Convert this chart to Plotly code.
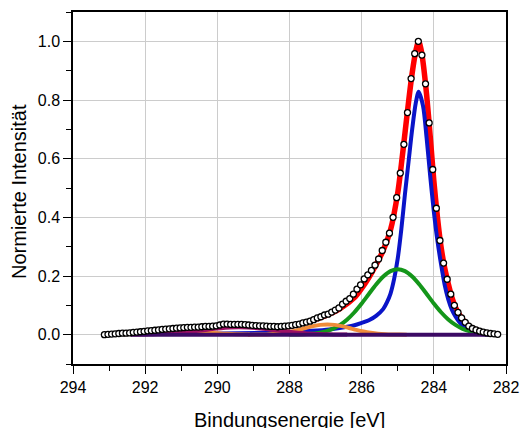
import plotly.graph_objects as go

# ---- measured spectrum (binding energy in eV, normalised intensity) ----
energy = [293.13, 293.03, 292.93, 292.83, 292.73, 292.63, 292.53, 292.43, 292.33, 292.23,
          292.13, 292.03, 291.93, 291.83, 291.73, 291.63, 291.53, 291.43, 291.33, 291.23,
          291.13, 291.03, 290.93, 290.83, 290.73, 290.63, 290.53, 290.43, 290.33, 290.23,
          290.13, 290.03, 289.93, 289.83, 289.73, 289.63, 289.53, 289.43, 289.33, 289.23,
          289.13, 289.03, 288.93, 288.83, 288.73, 288.63, 288.53, 288.43, 288.33, 288.23,
          288.13, 288.03, 287.93, 287.83, 287.73, 287.63, 287.53, 287.43, 287.33, 287.23,
          287.13, 287.03, 286.93, 286.83, 286.73, 286.63, 286.53, 286.43, 286.33, 286.23,
          286.13, 286.03, 285.93, 285.83, 285.73, 285.63, 285.53, 285.43, 285.33, 285.23,
          285.13, 285.03, 284.93, 284.83, 284.73, 284.63, 284.53, 284.43, 284.33, 284.23,
          284.13, 284.03, 283.93, 283.83, 283.73, 283.63, 283.53, 283.43, 283.33, 283.23,
          283.13, 283.03, 282.93, 282.83, 282.73, 282.63, 282.53, 282.43, 282.33, 282.23]
intensity = [0.000, 0.001, 0.002, 0.003, 0.004, 0.005, 0.005, 0.006, 0.008, 0.009,
             0.010, 0.011, 0.013, 0.014, 0.015, 0.016, 0.018, 0.019, 0.020, 0.021,
             0.022, 0.023, 0.024, 0.025, 0.025, 0.026, 0.026, 0.027, 0.028, 0.028,
             0.029, 0.030, 0.033, 0.036, 0.036, 0.035, 0.035, 0.035, 0.035, 0.034,
             0.033, 0.032, 0.031, 0.030, 0.030, 0.029, 0.028, 0.028, 0.027, 0.028,
             0.029, 0.030, 0.032, 0.034, 0.036, 0.040, 0.043, 0.046, 0.051, 0.057,
             0.061, 0.067, 0.070, 0.077, 0.084, 0.091, 0.104, 0.114, 0.123, 0.138,
             0.155, 0.170, 0.190, 0.204, 0.219, 0.237, 0.258, 0.287, 0.315, 0.346,
             0.400, 0.467, 0.551, 0.649, 0.757, 0.873, 0.958, 1.000, 0.953, 0.855,
             0.722, 0.563, 0.431, 0.321, 0.244, 0.189, 0.138, 0.100, 0.076, 0.057,
             0.042, 0.029, 0.021, 0.016, 0.012, 0.009, 0.006, 0.004, 0.003, 0.001]

# ---- fit envelope ----
env_e = [292.6, 292.0, 291.5, 291.0, 290.5, 290.0, 289.5, 289.0, 288.5, 288.0,
         287.5, 287.0, 286.6, 286.2, 286.0, 285.8, 285.6, 285.4, 285.2, 285.0,
         284.9, 284.8, 284.7, 284.6, 284.5, 284.42, 284.35, 284.3, 284.2, 284.1,
         284.0, 283.9, 283.8, 283.7, 283.6, 283.5, 283.4, 283.3, 283.2, 283.1,
         283.0, 282.8, 282.6, 282.4]
env_i = [0.004, 0.0093, 0.0157, 0.0217, 0.0259, 0.0294, 0.0311, 0.0293, 0.0255, 0.028,
         0.0435, 0.0648, 0.0889, 0.1264, 0.158, 0.195, 0.2387, 0.288, 0.3575, 0.4834,
         0.58, 0.687, 0.794, 0.892, 0.967, 1.0, 0.97, 0.93, 0.818, 0.676,
         0.525, 0.40, 0.299, 0.228, 0.174, 0.127, 0.093, 0.070, 0.052, 0.038,
         0.027, 0.015, 0.008, 0.003]

# ---- component 1 (blue, main peak) ----
c1_e = [292.4, 291.4, 290.4, 289.4, 288.4, 287.9, 287.4, 286.9, 286.4, 286.2,
        286.0, 285.8, 285.6, 285.4, 285.3, 285.2, 285.1, 285.0, 284.9, 284.8,
        284.7, 284.6, 284.5, 284.42, 284.3, 284.2, 284.1, 284.0, 283.9, 283.8,
        283.7, 283.6, 283.5, 283.4, 283.3, 283.2, 283.1, 283.0, 282.9, 282.8,
        282.6, 282.3]
c1_i = [0.0019, 0.0025, 0.0033, 0.0047, 0.0073, 0.0096, 0.013, 0.018, 0.027, 0.032,
        0.040, 0.049, 0.064, 0.088, 0.11, 0.14, 0.19, 0.26, 0.36, 0.48,
        0.59, 0.70, 0.79, 0.828, 0.78, 0.67, 0.54, 0.42, 0.32, 0.24,
        0.17, 0.12, 0.085, 0.062, 0.044, 0.031, 0.021, 0.013, 0.007, 0.004,
        0.0015, 0.0]

# ---- component 2 (green) ----
c2_e = [288.0, 287.8, 287.6, 287.4, 287.2, 287.0, 286.8, 286.6, 286.4, 286.2,
        286.0, 285.8, 285.6, 285.4, 285.2, 285.0, 284.8, 284.6, 284.4, 284.2,
        284.0, 283.8, 283.6, 283.4, 283.2, 283.0, 282.8, 282.6, 282.4]
c2_i = [0.0002, 0.0007, 0.0015, 0.0031, 0.0061, 0.0114, 0.0200, 0.0333, 0.0519, 0.0764,
        0.106, 0.1386, 0.1707, 0.198, 0.2165, 0.223, 0.2165, 0.198, 0.1707, 0.1386,
        0.106, 0.0764, 0.0519, 0.0333, 0.0200, 0.0114, 0.0061, 0.0031, 0.0015]

# ---- component 3 (orange, ~287 eV) ----
c3_e = [289.15, 288.95, 288.75, 288.55, 288.35, 288.15, 287.95, 287.75, 287.55, 287.35,
        287.15, 286.95, 286.75, 286.55, 286.35, 286.15, 285.95, 285.75, 285.55, 285.35,
        285.15, 284.95, 284.75]
c3_i = [0.0001, 0.0003, 0.0008, 0.0017, 0.0034, 0.0064, 0.0107, 0.0164, 0.0229, 0.029,
        0.0334, 0.035, 0.0334, 0.029, 0.0229, 0.0164, 0.0107, 0.0064, 0.0034, 0.0017,
        0.0008, 0.0003, 0.0001]

# ---- component 4 (orange, ~291 eV) ----
c4_e = [292.6, 292.35, 292.1, 291.85, 291.6, 291.35, 291.1, 290.85, 290.6, 290.35,
        290.1, 289.85, 289.6, 289.35, 289.1]
c4_i = [0.0021, 0.0035, 0.0055, 0.0077, 0.0099, 0.0114, 0.012, 0.0114, 0.0099, 0.0077,
        0.0055, 0.0035, 0.0021, 0.0011, 0.0005]

# ---- component 5 (magenta, ~289.4 eV) ----
c5_e = [292.4, 292.15, 291.9, 291.65, 291.4, 291.15, 290.9, 290.65, 290.4, 290.15,
        289.9, 289.65, 289.4, 289.15, 288.9, 288.65, 288.4, 288.15, 287.9, 287.65,
        287.4, 287.15, 286.9, 286.65, 286.4]
c5_i = [0.0003, 0.0006, 0.0011, 0.0020, 0.0034, 0.0054, 0.0081, 0.0114, 0.0152, 0.0189,
        0.0221, 0.0242, 0.025, 0.0242, 0.0221, 0.0189, 0.0152, 0.0114, 0.0081, 0.0054,
        0.0034, 0.0020, 0.0011, 0.0006, 0.0003]

# ---- baseline (dark purple) ----
base_e = [292.4, 282.3]
base_i = [0.0, 0.0]

x_ticks = [294, 292, 290, 288, 286, 284, 282]
y_ticks = [0.0, 0.2, 0.4, 0.6, 0.8, 1.0]

FONT = "Liberation Sans, Arial, sans-serif"

fig = go.Figure()


def add_line(x, y, color, width):
    fig.add_trace(go.Scatter(x=x, y=y, mode="lines",
                             line=dict(color=color, width=width, shape="spline", smoothing=0.8),
                             showlegend=False, hoverinfo="skip"))


add_line(env_e, env_i, "#ff0000", 5.5)
add_line(c1_e, c1_i, "#0a14c8", 4)
add_line(c2_e, c2_i, "#14961a", 4)
add_line(c3_e, c3_i, "#f08c3a", 4)
add_line(c4_e, c4_i, "#f08c3a", 4)
add_line(c5_e, c5_i, "#9c0f64", 4)
add_line(base_e, base_i, "#3c0a64", 4)

fig.add_trace(go.Scatter(x=energy, y=intensity, mode="markers",
                         marker=dict(symbol="circle", size=6, color="white",
                                     line=dict(color="black", width=1.3)),
                         showlegend=False))

fig.update_layout(
    width=529, height=428,
    margin=dict(l=73, r=16, t=10, b=64),
    paper_bgcolor="white", plot_bgcolor="white",
    font=dict(family=FONT, color="black"),
    xaxis=dict(range=[294, 282], tickvals=x_ticks, ticktext=[str(v) for v in x_ticks],
               showgrid=True, gridcolor="#cccccc", gridwidth=1,
               showline=True, linecolor="black", linewidth=1.5, mirror=True,
               ticks="outside", ticklen=8, tickwidth=1.3, tickcolor="black",
               tickfont=dict(size=16, family=FONT), zeroline=False,
               minor=dict(dtick=1, tick0=0, ticks="outside", ticklen=5, tickwidth=1.3,
                          tickcolor="black", showgrid=False)),
    yaxis=dict(range=[-0.1, 1.1], tickvals=y_ticks, ticktext=[f"{v:.1f}" for v in y_ticks],
               showgrid=True, gridcolor="#cccccc", gridwidth=1,
               showline=True, linecolor="black", linewidth=1.5, mirror=True,
               ticks="outside", ticklen=8, tickwidth=1.3, tickcolor="black",
               tickfont=dict(size=16, family=FONT), zeroline=False,
               minor=dict(dtick=0.1, tick0=0, ticks="outside", ticklen=5, tickwidth=1.3,
                          tickcolor="black", showgrid=False)),
    annotations=[
        dict(text="Bindungsenergie [eV]", xref="paper", yref="paper", x=0.5, y=-0.16,
             xanchor="center", yanchor="middle", showarrow=False,
             font=dict(size=20, family=FONT, color="black")),
        dict(text="Normierte Intensität", xref="paper", yref="paper", x=-0.126, y=0.49,
             xanchor="center", yanchor="middle", textangle=-90, showarrow=False,
             font=dict(size=20, family=FONT, color="black")),
    ],
)

fig.write_html("out.html")
